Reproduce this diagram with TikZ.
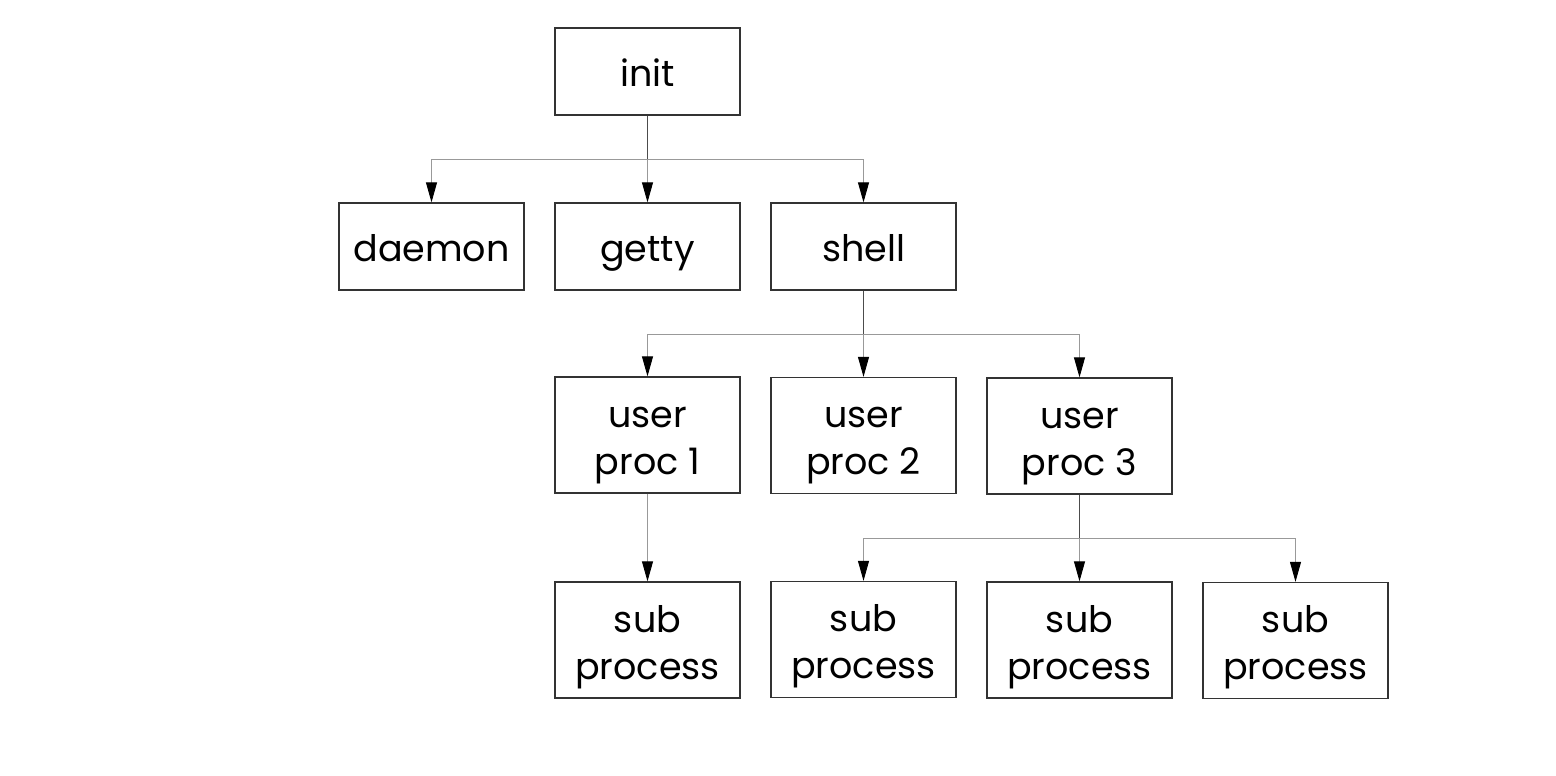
\documentclass[tikz,border=0pt]{standalone}
\usepackage{fontspec}
\setmainfont{Poppins}
\usetikzlibrary{arrows.meta}
\begin{document}
\begin{tikzpicture}[x=1pt,y=-1pt,
  box/.style={draw=black!80, line width=1.3pt, minimum width=185pt, minimum height=87pt, inner sep=0pt, font=\fontsize{36.5}{47}\selectfont, align=center, text height=30pt, text depth=0pt},
  tall/.style={box, minimum height=116pt, text height=78pt},
  stub/.style={draw=black!70, line width=0.9pt},
  bus/.style={draw=black!40, line width=0.9pt, -{Triangle[length=20pt,width=11pt,black]}},
]
\useasboundingbox (0,0) rectangle (1556,776);
\fill[white] (0,0) rectangle (1556,776);
\node[box] (init) at (647.5,71.5) {init};
\node[box] (daemon) at (431.5,246.5) {daemon};
\node[box] (getty) at (647.5,246.5) {getty};
\node[box] (shell) at (863.5,246.5) {shell};
\node[tall] (u1) at (647.5,435) {user\\proc 1};
\node[tall] (u2) at (863.5,435.5) {user\\proc 2};
\node[tall] (u3) at (1079.5,436) {user\\proc 3};
\node[tall] (s1) at (647.5,640) {sub\\process};
\node[tall] (s2) at (863.5,639.5) {sub\\process};
\node[tall] (s3) at (1079.5,640) {sub\\process};
\node[tall] (s4) at (1295.5,640.5) {sub\\process};
\coordinate (b1) at (647.5,159);
\coordinate (b2) at (863.5,334);
\coordinate (b3) at (1079.5,538);
% init
\draw[stub] (init.south) -- (b1);
\draw[bus] (b1) -| (daemon.north);
\draw[bus] (b1) -- (getty.north);
\draw[bus] (b1) -| (shell.north);
% shell
\draw[stub] (shell.south) -- (b2);
\draw[bus] (b2) -| (u1.north);
\draw[bus] (b2) -- (u2.north);
\draw[bus] (b2) -| (u3.north);
% user proc 1
\draw[bus] (u1.south) -- (s1.north);
% user proc 3
\draw[stub] (u3.south) -- (b3);
\draw[bus] (b3) -| (s2.north);
\draw[bus] (b3) -- (s3.north);
\draw[bus] (b3) -| (s4.north);
\end{tikzpicture}
\end{document}
